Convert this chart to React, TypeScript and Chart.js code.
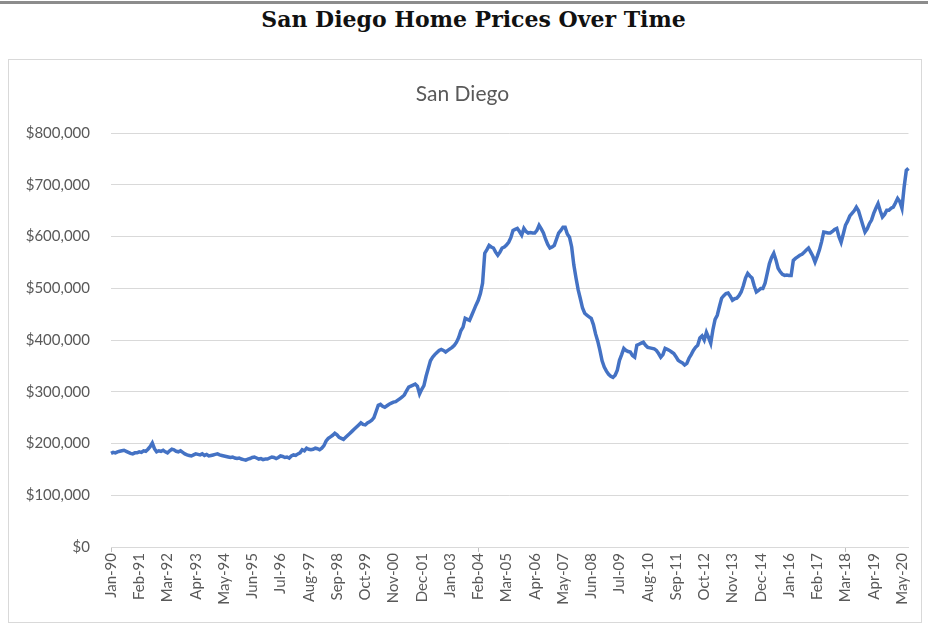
import React, { useEffect, useRef } from "react";
import { Chart, registerables } from "chart.js";

Chart.register(...registerables);

const MONTHS = ["Jan", "Feb", "Mar", "Apr", "May", "Jun", "Jul", "Aug", "Sep", "Oct", "Nov", "Dec"];
const START_YEAR = 1990;

// Monthly median home price (USD thousands), San Diego
const p1990 = [181, 183, 182, 184, 185, 186, 187, 185, 183, 181, 180, 182];
const p1991 = [182, 184, 183, 186, 185, 189, 194, 201, 190, 184, 186, 185];
const p1992 = [187, 184, 182, 186, 189, 188, 185, 184, 186, 183, 180, 178];
const p1993 = [177, 176, 178, 180, 179, 178, 180, 177, 179, 176, 177, 178];
const p1994 = [179, 180, 178, 177, 176, 175, 174, 173, 174, 172, 171, 172];
const p1995 = [170, 169, 168, 170, 171, 173, 174, 172, 170, 171, 169, 170];
const p1996 = [170, 172, 174, 173, 171, 173, 176, 175, 173, 174, 172, 176];
const p1997 = [178, 177, 180, 182, 188, 186, 191, 189, 188, 189, 191, 190];
const p1998 = [188, 191, 196, 205, 210, 213, 216, 220, 217, 212, 210, 208];
const p1999 = [212, 216, 220, 224, 228, 232, 236, 240, 237, 236, 240, 242];
const p2000 = [245, 250, 262, 274, 276, 272, 270, 273, 276, 278, 280, 281];
const p2001 = [284, 287, 290, 294, 302, 309, 311, 313, 315, 311, 296, 305];
const p2002 = [312, 330, 345, 360, 367, 372, 376, 380, 382, 380, 377, 380];
const p2003 = [383, 386, 390, 396, 405, 418, 425, 442, 440, 438, 448, 458];
const p2004 = [468, 477, 490, 510, 568, 575, 583, 580, 578, 570, 564, 570];
const p2005 = [578, 580, 584, 589, 598, 612, 614, 616, 610, 603, 616, 610];
const p2006 = [607, 608, 607, 607, 612, 622, 615, 607, 595, 585, 578, 580];
const p2007 = [583, 595, 607, 612, 618, 618, 605, 599, 580, 545, 520, 497];
const p2008 = [480, 462, 452, 448, 445, 442, 430, 412, 398, 380, 360, 348];
const p2009 = [340, 334, 330, 328, 332, 342, 361, 372, 384, 380, 378, 377];
const p2010 = [370, 367, 390, 392, 394, 396, 390, 386, 385, 384, 383, 380];
const p2011 = [374, 367, 372, 384, 382, 380, 377, 374, 368, 361, 358, 356];
const p2012 = [352, 355, 365, 372, 380, 386, 390, 404, 408, 400, 415, 405];
const p2013 = [394, 420, 440, 448, 465, 481, 486, 490, 491, 485, 477, 480];
const p2014 = [481, 486, 493, 505, 520, 529, 524, 520, 505, 493, 496, 500];
const p2015 = [500, 510, 529, 548, 560, 568, 555, 539, 532, 527, 525, 526];
const p2016 = [525, 525, 554, 558, 561, 564, 566, 570, 574, 578, 570, 562];
const p2017 = [551, 562, 574, 590, 609, 608, 607, 607, 610, 614, 616, 600];
const p2018 = [589, 605, 622, 630, 640, 645, 650, 657, 650, 636, 622, 609];
const p2019 = [615, 625, 632, 645, 655, 664, 650, 638, 643, 651, 651, 655];
const p2020 = [657, 665, 674, 668, 655, 696, 728, 732];

const YEARS = [
  p1990, p1991, p1992, p1993, p1994, p1995, p1996, p1997, p1998, p1999, p2000,
  p2001, p2002, p2003, p2004, p2005, p2006, p2007, p2008, p2009, p2010,
  p2011, p2012, p2013, p2014, p2015, p2016, p2017, p2018, p2019, p2020,
];

const LABEL_EVERY = 13;
const Y_MIN = 0;
const Y_MAX = 800000;
const Y_STEP = 100000;

const labels: string[] = [];
const values: number[] = [];
YEARS.forEach((arr, yi) => {
  arr.forEach((v, mi) => {
    const yy = String((START_YEAR + yi) % 100).padStart(2, "0");
    labels.push(`${MONTHS[mi]}-${yy}`);
    values.push(v * 1000);
  });
});

const FONT = "Lato, 'Open Sans', sans-serif";
const TEXT = "#595959";
const GRID = "#d9d9d9";

export default function App() {
  const ref = useRef<HTMLCanvasElement | null>(null);

  useEffect(() => {
    if (!ref.current) return;
    const chart = new Chart(ref.current, {
      type: "line",
      data: {
        labels,
        datasets: [
          {
            label: "San Diego",
            data: values,
            borderColor: "#4472C4",
            borderWidth: 3.5,
            pointRadius: 0,
            tension: 0,
            fill: false,
          },
        ],
      },
      options: {
        animation: false,
        responsive: false,
        maintainAspectRatio: false,
        layout: { padding: { left: 0, right: 5, top: 0, bottom: 0 } },
        plugins: {
          legend: { display: false },
          tooltip: { enabled: false },
          title: {
            display: true,
            text: "San Diego",
            color: TEXT,
            font: { family: FONT, size: 21, weight: "normal" },
            padding: { top: 22, bottom: 26 },
          },
        },
        scales: {
          x: {
            type: "category",
            offset: false,
            border: { display: true, color: GRID, width: 1 },
            grid: {
              display: true,
              drawOnChartArea: false,
              drawTicks: true,
              tickLength: 5,
              color: (ctx: any) => (ctx.index % LABEL_EVERY === 0 ? "#bfbfbf" : "rgba(0,0,0,0)"),
            },
            ticks: {
              autoSkip: false,
              maxRotation: 90,
              minRotation: 90,
              padding: 1,
              color: TEXT,
              font: { family: FONT, size: 15 },
              callback: (_v: any, i: number) => (i % LABEL_EVERY === 0 ? labels[i] : null),
            },
            afterFit: (s: any) => {
              s.height = 75;
            },
          },
          y: {
            min: Y_MIN,
            max: Y_MAX,
            border: { display: false },
            grid: { color: GRID, lineWidth: 1, drawTicks: false },
            ticks: {
              stepSize: Y_STEP,
              padding: 21,
              color: TEXT,
              font: { family: FONT, size: 15 },
              callback: (v: any) => "$" + Number(v).toLocaleString("en-US"),
            },
            afterFit: (s: any) => {
              s.width = 102;
            },
          },
        },
      },
    });
    return () => chart.destroy();
  }, []);

  return (
    <div style={{ position: "absolute", left: 0, top: 0, width: 928, height: 628, background: "#fff", overflow: "hidden" }}>
      <div style={{ position: "absolute", left: 0, top: 1, width: 928, height: 3, background: "#8c8c8c" }} />
      <div
        style={{
          position: "absolute",
          left: 0,
          top: 6,
          width: 947,
          textAlign: "center",
          fontFamily: "'DejaVu Serif', serif",
          fontWeight: "bold",
          fontSize: 22,
          lineHeight: "26px",
          color: "#111",
        }}
      >
        San Diego Home Prices Over Time
      </div>
      <div
        style={{
          position: "absolute",
          left: 8,
          top: 59,
          width: 912,
          height: 562,
          border: "1px solid #d9d9d9",
        }}
      >
        <canvas ref={ref} width={912} height={562} style={{ display: "block" }} />
      </div>
    </div>
  );
}
